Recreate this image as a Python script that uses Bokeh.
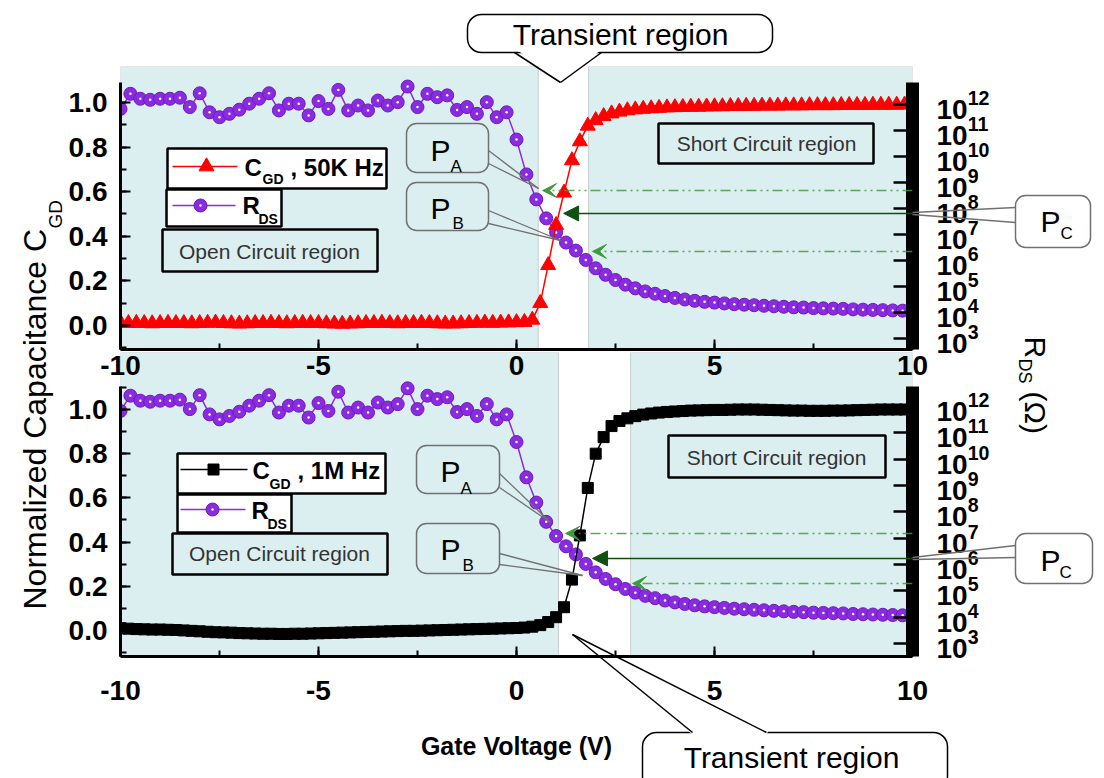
import numpy as np
from bokeh.plotting import figure
from bokeh.layouts import column
from bokeh.models import (Range1d, LogAxis, LogScale, FixedTicker, SingleIntervalTicker,
                          NumeralTickFormatter, LogTickFormatter, BoxAnnotation, Arrow,
                          VeeHead, NormalHead, Label, GridBox)
from bokeh.embed import file_html
from bokeh.resources import INLINE

# ---------------- data ----------------
vg_cap = np.linspace(-10, 10, 101)   # gate voltage sweep of C_GD (V)
vg_rds = np.linspace(-10, 10, 81)    # gate voltage sweep of R_DS (V)

cgd_50k = [0.012, 0.010, 0.011, 0.010, 0.009, 0.010, 0.011, 0.010, 0.010, 0.009,
           0.010, 0.011, 0.012, 0.010, 0.009, 0.008, 0.009, 0.010, 0.010, 0.011,
           0.010, 0.009, 0.010, 0.011, 0.010, 0.010, 0.009, 0.008, 0.007, 0.008,
           0.009, 0.010, 0.010, 0.011, 0.010, 0.009, 0.010, 0.010, 0.011, 0.010,
           0.009, 0.008, 0.008, 0.009, 0.010, 0.011, 0.012, 0.011, 0.012, 0.013,
           0.014,
           0.015, 0.025, 0.100, 0.270, 0.450, 0.595, 0.740, 0.825, 0.895, 0.920,
           0.938, 0.950, 0.958, 0.964, 0.968, 0.971, 0.973, 0.975, 0.977, 0.978,
           0.979, 0.980, 0.980, 0.981, 0.982, 0.982, 0.983, 0.983, 0.984, 0.984,
           0.985, 0.985, 0.985, 0.986, 0.986, 0.986, 0.987, 0.987, 0.987, 0.987,
           0.988, 0.988, 0.988, 0.988, 0.989, 0.989, 0.989, 0.989, 0.990, 0.990]

cgd_1m = [0.010, 0.008, 0.006, 0.005, 0.004, 0.004, 0.003, 0.002, 0.000, -0.002,
          -0.004,
          -0.006, -0.008, -0.009, -0.010, -0.012, -0.013, -0.014, -0.015, -0.015, -0.016,
          -0.016, -0.015, -0.015, -0.014, -0.013, -0.012, -0.011, -0.010, -0.009, -0.008,
          -0.007, -0.006, -0.005, -0.004, -0.003, -0.002, -0.002, -0.001, 0.000, 0.001,
          0.002, 0.003, 0.004, 0.005, 0.006, 0.007, 0.008, 0.009, 0.010, 0.011,
          0.013, 0.017, 0.024, 0.038, 0.060, 0.105, 0.230, 0.430, 0.645, 0.800,
          0.875, 0.925, 0.948, 0.960, 0.970, 0.977, 0.982, 0.986, 0.989, 0.991,
          0.993, 0.995, 0.996, 0.997, 0.998,
          0.998, 0.999, 1.000, 1.000, 1.000, 0.999, 0.998, 0.997, 0.996, 0.995,
          0.995, 0.994, 0.994, 0.994, 0.995, 0.995, 0.996, 0.997, 0.998, 0.999,
          1.000, 1.000, 1.000, 1.000, 1.000]

# log10(R_DS / ohm)
rds_exp = [11.83, 12.41, 12.22, 12.18, 12.22, 12.22, 12.26, 11.90, 12.43, 11.70,
           11.51, 11.64, 11.80, 12.03, 12.22, 12.43, 11.77, 12.03, 12.03, 11.58,
           12.13, 11.83, 12.56, 11.77, 11.96, 11.77, 12.15, 11.96, 12.09, 12.69,
           11.90, 12.41, 12.28, 12.35, 11.79, 11.90, 11.64, 12.09, 11.51, 11.70,
           10.65, 9.31, 8.35, 7.62, 7.08, 6.69, 6.38, 6.02, 5.70, 5.45,
           5.25, 5.07, 4.93, 4.81, 4.72, 4.63, 4.56, 4.50, 4.45, 4.41,
           4.38, 4.35, 4.32, 4.30, 4.28, 4.26, 4.24, 4.22, 4.20, 4.19,
           4.17, 4.16, 4.15, 4.14, 4.12, 4.11, 4.10, 4.09, 4.08, 4.07,
           4.06]
rds_ohm = [10.0 ** e for e in rds_exp]

# guide lines: R_DS level (log10 ohm), voltage where the arrow ends, style
top_guides_exp = [8.69, 7.81, 6.35]
top_guides_tip = [0.66, 1.19, 1.92]
bot_guides_exp = [7.18, 6.23, 5.28]
bot_guides_tip = [1.24, 1.92, 2.93]
guide_solid = [False, True, False]

# region boundaries (V): open-circuit end, short-circuit start
top_regions = [0.55, 1.82]
bot_regions = [1.06, 2.88]

x_ticks = [-10, -5, 0, 5, 10]
x_tick_labels = ["-10", "-5", "0", "5", "10"]
rds_tick_exp = list(range(3, 13))

# ---------------- style ----------------
FONT = "Liberation Sans"
SHADE = "#DCEFF0"
RED = "#FF0000"
PURPLE = "#8A2BE2"
PURPLE_EDGE = "#6A1BB8"
GREEN = "#3E9A3E"
DKGREEN = "#0F4F0F"
GRAY = "#707070"
W = 1104


def make_panel(height, b_top, b_bottom, y_lo, y_hi, y_axis_hi, r_lo, r_hi, r_axis_hi, x_standoff):
    p = figure(width=W, height=height, title=None,
               x_range=Range1d(-10, 10), y_range=Range1d(y_lo, y_hi),
               output_backend="svg", toolbar_location=None,
               min_border_left=120, min_border_right=W - 912,
               min_border_top=b_top, min_border_bottom=b_bottom,
               background_fill_color="white", border_fill_color="white")
    p.extra_y_ranges = {"rds": Range1d(10.0 ** r_lo, 10.0 ** r_hi)}
    p.extra_y_scales = {"rds": LogScale()}
    p.grid.visible = False
    p.outline_line_color = None
    xa = p.xaxis[0]
    ya = p.yaxis[0]
    xa.ticker = SingleIntervalTicker(interval=5, num_minor_ticks=2)
    xa.major_label_overrides = dict(zip(x_ticks, x_tick_labels))
    xa.major_label_standoff = x_standoff
    ya.ticker = SingleIntervalTicker(interval=0.2, num_minor_ticks=2)
    ya.formatter = NumeralTickFormatter(format="0.0")
    ya.bounds = (y_lo, y_axis_hi)
    for ax in (xa, ya):
        ax.axis_line_width = 3
        ax.axis_line_color = "black"
        ax.major_tick_in = 10
        ax.major_tick_out = 0
        ax.minor_tick_in = 6
        ax.minor_tick_out = 0
        ax.major_tick_line_width = 2
        ax.minor_tick_line_width = 2
        ax.major_label_text_font = FONT
        ax.major_label_text_font_style = "bold"
        ax.major_label_text_font_size = "28px"
        ax.major_label_text_color = "black"
    ya.major_label_standoff = 13
    ra = LogAxis(y_range_name="rds",
                 ticker=FixedTicker(ticks=[10.0 ** k for k in rds_tick_exp], minor_ticks=[]),
                 formatter=LogTickFormatter(), bounds=(10.0 ** r_lo, 10.0 ** r_axis_hi))
    ra.axis_line_width = 13
    ra.axis_line_color = "black"
    ra.major_tick_in = 19
    ra.major_tick_out = 0
    ra.major_tick_line_width = 2.5
    ra.minor_tick_line_color = None
    ra.major_label_standoff = 24
    ra.major_label_text_font = FONT
    ra.major_label_text_font_style = "bold"
    ra.major_label_text_font_size = "28px"
    ra.major_label_text_color = "black"
    p.add_layout(ra, "right")
    return p


def add_regions(p, regions):
    p.add_layout(BoxAnnotation(left=-10, right=regions[0], fill_color=SHADE, fill_alpha=1,
                               line_color=GRAY, line_width=1, level="underlay"))
    p.add_layout(BoxAnnotation(left=regions[1], right=10, fill_color=SHADE, fill_alpha=1,
                               line_color=GRAY, line_width=1, level="underlay"))


def add_guides(p, exps, tips):
    for e, tip, solid in zip(exps, tips, guide_solid):
        lvl = 10.0 ** e
        if solid:
            head = NormalHead(size=15, fill_color=DKGREEN, line_color=DKGREEN)
            p.add_layout(Arrow(end=head, x_start=10, y_start=lvl, x_end=tip, y_end=lvl,
                               y_range_name="rds", line_color=DKGREEN, line_width=1.5))
        else:
            head = VeeHead(size=14, fill_color=GREEN, line_color=GREEN)
            p.add_layout(Arrow(end=head, x_start=10, y_start=lvl, x_end=tip, y_end=lvl,
                               y_range_name="rds", line_color=GREEN, line_width=1.5,
                               line_alpha=0.85, line_dash="10 4 2 4 2 4"))


def add_rds(p):
    p.line(vg_rds, rds_ohm, y_range_name="rds", line_color=PURPLE, line_width=1.5)
    p.scatter(vg_rds, rds_ohm, y_range_name="rds", marker="circle", size=13,
              fill_color=PURPLE, line_color=PURPLE_EDGE, line_width=1)
    p.scatter(vg_rds, rds_ohm, y_range_name="rds", marker="circle", size=2.5,
              fill_color="white", line_color=None)


# ---------------- bottom panel (1 MHz) ----------------
# full-page canvas; the frame starts right under the top panel so that its shading
# lies behind the top panel's tick labels; the axis lines start lower (bounds)
pb = make_panel(778, 352, 122, -0.118, 1.258, 1.104, 2.505, 14.05, 12.76, 24)
add_regions(pb, bot_regions)
add_rds(pb)
pb.line(vg_cap, cgd_1m, line_color="black", line_width=1.5)
pb.scatter(vg_cap, cgd_1m, marker="square", size=11, fill_color="black", line_color="black")
add_guides(pb, bot_guides_exp, bot_guides_tip)
xb = pb.xaxis[0]
xb.axis_label = "Gate Voltage (V)"
xb.axis_label_text_font = FONT
xb.axis_label_text_font_style = "bold"
xb.axis_label_text_font_size = "25px"
xb.axis_label_text_color = "black"
xb.axis_label_standoff = 29

# ---------------- top panel (50 kHz) ----------------
# transparent border so the bottom panel's shading shows under its tick labels
pt = make_panel(386, 66, 37, -0.108, 1.161, 1.0897, 2.577, 13.46, 12.846, 6)
pt.border_fill_color = None
add_regions(pt, top_regions)
add_rds(pt)
pt.line(vg_cap, cgd_50k, line_color=RED, line_width=1.5)
pt.scatter(vg_cap, cgd_50k, marker="triangle", size=15, fill_color=RED, line_color=RED)
add_guides(pt, top_guides_exp, top_guides_tip)

# ---------------- overlay with page-level annotations (data units = page pixels) ----------------
ov = figure(width=W, height=778, title=None, x_range=Range1d(0, W), y_range=Range1d(-778, 0),
            x_axis_location=None, y_axis_location=None, min_border=0,
            output_backend="svg", toolbar_location=None,
            background_fill_color=None, border_fill_color=None)
ov.outline_line_color = None
ov.grid.visible = False


def T(text, x, y, size, style="normal", align="left", angle=0.0, color="black"):
    # y is the vertical centre of the capitals (page pixels)
    ov.add_layout(Label(x=x, y=-y, text=text, text_font=FONT, text_font_size=f"{size}px",
                        text_font_style=style, text_align=align, text_baseline="middle",
                        angle=angle, text_color=color))


def box(l, t, r, b, fill, line, lw, radius=0):
    ov.quad(left=[l], right=[r], top=[-t], bottom=[-b], fill_color=fill,
            line_color=line, line_width=lw, border_radius=radius)


def seg(x0, y0, x1, y1, color=GRAY, lw=1.3):
    ov.segment(x0=[x0], y0=[-y0], x1=[x1], y1=[-y1], line_color=color, line_width=lw)


def pbox(l, t, r, b, tail_y0, tail_y1, tip, letter, px, pmid, sx, smid, fill=SHADE):
    box(l, t, r, b, fill, GRAY, 1.5, 10)
    seg(r, tail_y0, tip[0], tip[1])
    seg(r, tail_y1, tip[0], tip[1])
    T("P", px, pmid, 30)
    T(letter, sx, smid, 17)


# axis titles spanning both panels
T("Normalized Capacitance C", 34, 609, 32, angle=np.pi / 2)
T("GD", 55, 228, 19, angle=np.pi / 2)
T("R", 1035, 336, 30, angle=-np.pi / 2)
T("DS", 1024, 358, 18, angle=-np.pi / 2)
T("(\u03a9)", 1035, 391, 30, angle=-np.pi / 2)

# top legend
box(167, 148, 386, 188, "white", "black", 2.5)
box(166, 189, 281, 226, "white", "black", 2.5)
ov.line([172, 237], [-166, -166], line_color=RED, line_width=1.5)
ov.scatter([206], [-166], marker="triangle", size=15, fill_color=RED, line_color=RED)
ov.line([172, 235], [-205, -205], line_color=PURPLE, line_width=1.5)
ov.scatter([200], [-205], marker="circle", size=13, fill_color=PURPLE, line_color=PURPLE_EDGE)
ov.scatter([200], [-205], marker="circle", size=2.5, fill_color="white", line_color=None)
T("C", 244, 167, 24, "bold")
T("GD", 262, 178, 14, "bold")
T(", 50K Hz", 290, 167, 24, "bold")
T("R", 242, 205, 24, "bold")
T("DS", 258, 218, 14, "bold")
box(162, 229, 377, 271, SHADE, "black", 2.5)
T("Open Circuit region", 269, 251, 21, align="center", color="#333333")
box(658, 123, 873, 163, SHADE, "black", 2.5)
T("Short Circuit region", 766, 143, 21, align="center", color="#333333")

# bottom legend
box(177, 453, 385, 493, "white", "black", 2.5)
box(177, 494, 291, 532, "white", "black", 2.5)
ov.line([180, 247], [-469, -469], line_color="black", line_width=1.5)
ov.scatter([213], [-469], marker="square", size=11, fill_color="black", line_color="black")
ov.line([180, 245], [-509, -509], line_color=PURPLE, line_width=1.5)
ov.scatter([212], [-509], marker="circle", size=13, fill_color=PURPLE, line_color=PURPLE_EDGE)
ov.scatter([212], [-509], marker="circle", size=2.5, fill_color="white", line_color=None)
T("C", 252, 470, 24, "bold")
T("GD", 269, 483, 14, "bold")
T(", 1M Hz", 297, 470, 24, "bold")
T("R", 251, 510, 24, "bold")
T("DS", 267, 523, 14, "bold")
box(172, 533, 387, 574, SHADE, "black", 2.5)
T("Open Circuit region", 279, 553, 21, align="center", color="#333333")
box(668, 435, 885, 477, SHADE, "black", 2.5)
T("Short Circuit region", 776, 457, 21, align="center", color="#333333")

# P_A / P_B callouts
pbox(406, 123, 488, 172, 150, 163, (538, 188), "A", 430, 150, 450, 166)
pbox(406, 182, 488, 230, 210, 223, (560, 240), "B", 430, 208, 452, 223)
pbox(416, 445, 499, 493, 473, 487, (550, 522), "A", 440, 471, 460, 488)
pbox(416, 523, 499, 573, 553, 564, (582, 575), "B", 440, 549, 462, 565)

# P_C callouts at the right axis
box(1015, 195, 1090, 247, "white", GRAY, 1.5, 10)
seg(912, 212, 1015, 207)
seg(912, 214, 1015, 222)
T("P", 1040, 221, 30)
T("C", 1060, 233, 17)
box(1015, 533, 1092, 583, "white", GRAY, 1.5, 10)
seg(912, 557, 1015, 545)
seg(912, 559, 1015, 557)
T("P", 1040, 560, 30)
T("C", 1059, 572, 17)

# "Transient region" callouts
box(467, 14, 772, 52, "white", "black", 1.5, 14)
ov.patch([516, 600, 592, 528], [-50, -50, -56, -56], fill_color="white", line_color=None)
seg(514, 52, 560, 82, "black", 1.5)
seg(601, 52, 560, 82, "black", 1.5)
T("Transient region", 620, 34, 30, align="center")

box(642, 732, 947, 790, "white", "black", 1.5, 14)
ov.patch([682, 770, 766, 692], [-726, -726, -734, -734], fill_color="white", line_color=None)
seg(572, 634, 692, 732, "black", 1.5)
seg(572, 634, 766, 732, "black", 1.5)
T("Transient region", 791, 757, 30, align="center")

# stacked in one grid cell: bottom panel, top panel, then the page overlay
layout = GridBox(children=[(column(pb), 0, 0), (column(pt), 0, 0), (ov, 0, 0)])

open("out.html", "w").write(file_html(layout, INLINE))
